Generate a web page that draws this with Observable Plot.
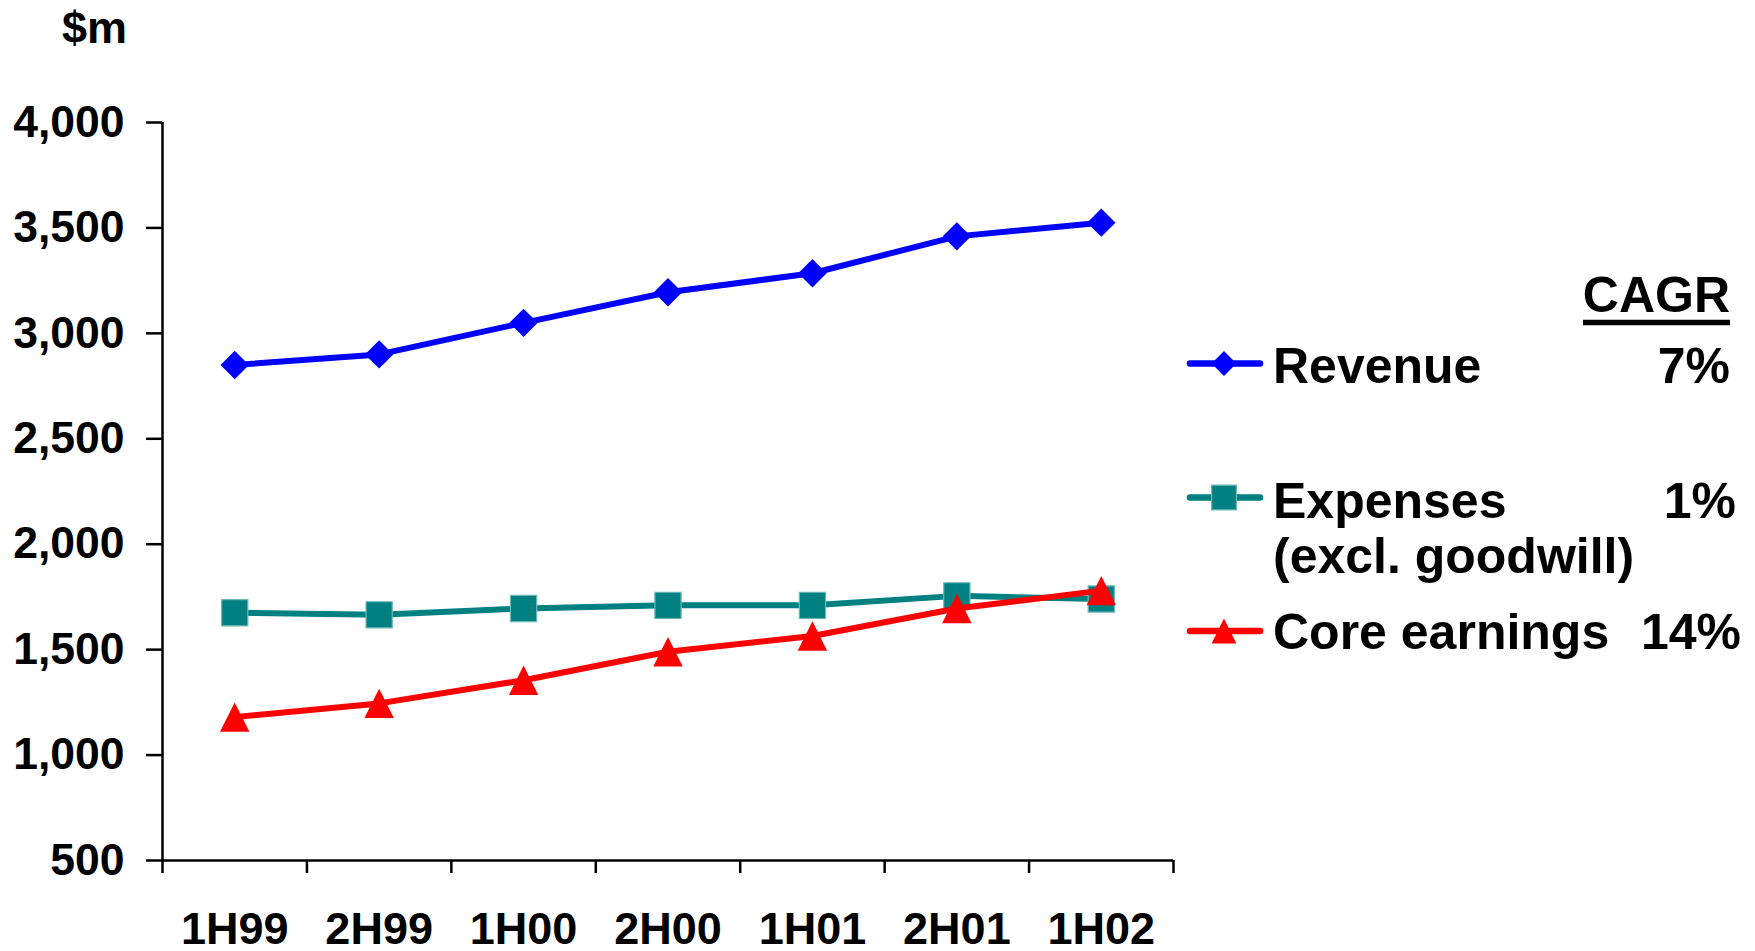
<!DOCTYPE html>
<html>
<head>
<meta charset="utf-8">
<script src="https://cdn.jsdelivr.net/npm/d3@7"></script>
<script src="https://cdn.jsdelivr.net/npm/@observablehq/plot@0.6"></script>
<style>
  html, body { margin: 0; padding: 0; background: #fff; }
  #chart { width: 1755px; height: 951px; }
</style>
</head>
<body>
<div id="chart"></div>
<script>
// Half-year periods on the x axis
const periods = ["1H99", "2H99", "1H00", "2H00", "1H01", "2H01", "1H02"];

// Series values, $m
const revenue      = [2850, 2900, 3050, 3195, 3285, 3460, 3525];
const expenses     = [1675, 1665, 1695, 1710, 1710, 1755, 1740];
const coreEarnings = [1180, 1245, 1355, 1490, 1565, 1695, 1780];

// Legend names and compound annual growth rates
const seriesNames = ["Revenue", "Expenses", "Core earnings"];
const seriesSubNames = ["", "(excl. goodwill)", ""];
const cagr = ["7%", "1%", "14%"];

// Y axis ticks
const yTicks = [500, 1000, 1500, 2000, 2500, 3000, 3500, 4000];

const FONT = "'Liberation Sans', Arial, Helvetica, sans-serif";
const colors = ["#0000ff", "#008080", "#ff0000"];

// Marker shapes, sized by the bounding box (width = sqrt(size))
const diamond = {
  draw(ctx, size) {
    const a = Math.sqrt(size) / 2;
    ctx.moveTo(0, -a); ctx.lineTo(a, 0); ctx.lineTo(0, a); ctx.lineTo(-a, 0); ctx.closePath();
  }
};
const square = {
  draw(ctx, size) {
    const a = Math.sqrt(size) / 2;
    ctx.moveTo(-a, -a); ctx.lineTo(a, -a); ctx.lineTo(a, a); ctx.lineTo(-a, a); ctx.closePath();
  }
};
const triangle = {
  draw(ctx, size) {
    const a = Math.sqrt(size) / 2;
    ctx.moveTo(0, -a); ctx.lineTo(a, a); ctx.lineTo(-a, a); ctx.closePath();
  }
};
const symbols = [diamond, square, triangle];
const markerR = [16, 14.8, 16.6];

const seriesValues = [revenue, expenses, coreEarnings];
const tables = seriesValues.map((vals, s) =>
  vals.map((v, i) => ({i, period: periods[i], value: v, series: seriesNames[s]}))
);

const idx = d3.range(periods.length);
const boundaries = d3.range(periods.length + 1).map(k => k - 0.5);

const seriesMarks = tables.flatMap((t, s) => [
  Plot.line(t, {x: "i", y: "value", stroke: colors[s], strokeWidth: 6, strokeLinejoin: "round"}),
  Plot.dot(t, {
    x: "i", y: "value", symbol: symbols[s], r: markerR[s], fill: colors[s],
    stroke: s === 1 ? "#6fb8b8" : "none", strokeWidth: s === 1 ? 1.2 : 0
  })
]);

const chart = Plot.plot({
  width: 1755,
  height: 951,
  marginLeft: 162,
  marginRight: 582,
  marginTop: 122,
  marginBottom: 91,
  style: {fontFamily: FONT, fontWeight: "bold", color: "#000", background: "#fff", overflow: "visible"},
  x: {type: "linear", domain: [-0.5, periods.length - 0.5]},
  y: {domain: [500, 4000]},
  marks: [
    Plot.axisY({ticks: yTicks, tickSize: 16, tickPadding: 22, tickFormat: d3.format(","),
      fontSize: 44.5, label: null, strokeWidth: 2.5}),
    Plot.axisX({ticks: boundaries, tickSize: 13, tickFormat: () => "", label: null, strokeWidth: 2.5}),
    Plot.axisX({ticks: idx, tickSize: 0, tickPadding: 52, tickFormat: i => periods[i],
      fontSize: 45, label: null}),
    Plot.ruleX([-0.5], {stroke: "#000", strokeWidth: 2.5}),
    Plot.ruleY([500], {stroke: "#000", strokeWidth: 2.5}),
    ...seriesMarks
  ]
});

document.getElementById("chart").appendChild(chart);

// Unit label and CAGR legend drawn into the same SVG
const svg = d3.select(chart);
svg.append("text")
  .attr("x", 62).attr("y", 43).attr("text-anchor", "start")
  .attr("font-family", FONT).attr("font-weight", "bold").attr("font-size", 45)
  .attr("fill", "#000")
  .text("$m");

const legend = svg.append("g")
  .attr("font-family", FONT).attr("font-weight", "bold").attr("font-size", 50)
  .attr("fill", "#000").attr("text-anchor", "start");

legend.append("text")
  .attr("x", 1730).attr("y", 312).attr("text-anchor", "end")
  .text("CAGR");
legend.append("line")
  .attr("x1", 1583).attr("x2", 1730).attr("y1", 322.5).attr("y2", 322.5)
  .attr("stroke", "#000").attr("stroke-width", 5.5);

// Legend rows: swatch line centre, label baseline, percentage right edge
const legendLayout = [
  {lineY: 363.5, baseY: 383, pctX: 1730},
  {lineY: 497.5, baseY: 518, pctX: 1736},
  {lineY: 631,   baseY: 649, pctX: 1741}
];
const swatchX0 = 1190, swatchX1 = 1260, swatchCx = 1224, textX = 1273;

seriesNames.forEach((name, s) => {
  const L = legendLayout[s];
  const g = legend.append("g");
  g.append("line")
    .attr("x1", swatchX0).attr("x2", swatchX1).attr("y1", L.lineY).attr("y2", L.lineY)
    .attr("stroke", colors[s]).attr("stroke-width", 6.5).attr("stroke-linecap", "round");
  g.append("path")
    .attr("transform", `translate(${swatchCx},${L.lineY})`)
    .attr("d", d3.symbol(symbols[s], Math.PI * 14 * 14)())
    .attr("fill", colors[s])
    .attr("stroke", s === 1 ? "#6fb8b8" : "none").attr("stroke-width", 1.2);
  g.append("text").attr("x", textX).attr("y", L.baseY).attr("text-anchor", "start").text(name);
  if (seriesSubNames[s]) {
    g.append("text").attr("x", textX).attr("y", L.baseY + 55).attr("text-anchor", "start").text(seriesSubNames[s]);
  }
  g.append("text").attr("x", L.pctX).attr("y", L.baseY).attr("text-anchor", "end").text(cagr[s]);
});
</script>
</body>
</html>
